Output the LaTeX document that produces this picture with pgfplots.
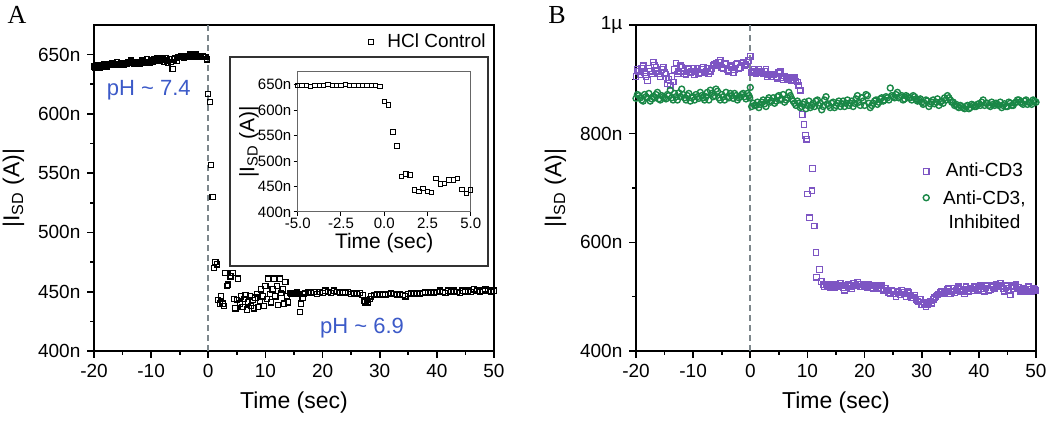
\documentclass[border=0pt]{standalone}
\usepackage{fontspec}
\setmainfont{Liberation Sans}
\newfontfamily\seriffont{Liberation Serif}
\usepackage{pgfplots}
\usepackage{pgfplotstable}
\pgfplotsset{compat=1.18}
\definecolor{phblue}{RGB}{60,90,200}
\definecolor{cdpurple}{RGB}{125,85,195}
\definecolor{cdgreen}{RGB}{25,135,70}
\definecolor{dashgray}{RGB}{125,135,140}

\pgfplotstableread{
t y
-20 640
-19.75 639
-19.5 641
-19.25 640
-19 639
-18.75 641
-18.5 640
-18.25 642
-18 641
-17.75 640
-17.5 642
-17.25 641
-17 642
-16.75 643
-16.5 641
-16.25 642
-16 644
-15.75 642
-15.5 641
-15.25 643
-15 642
-14.75 641
-14.5 643
-14.25 642
-14 644
-13.75 643
-13.5 645
-13.25 644
-13 642
-12.75 643
-12.5 644
-12.25 643
-12 642
-11.75 644
-11.5 645
-11.25 643
-11 644
-10.75 646
-10.5 644
-10.25 643
-10 645
-9.75 644
-9.5 646
-9.25 645
-9 647
-8.75 646
-8.5 645
-8.25 647
-8 646
-7.75 644
-7.5 647
-7.25 645
-7 643
-6.75 646
-6.5 644
-6.25 638
-6 646
-5.75 647
-5.5 645
-5.25 648
-5 648
-4.75 649
-4.5 648
-4.25 647
-4 649
-3.75 648
-3.5 649
-3.25 650
-3 648
-2.75 649
-2.5 648
-2.25 650
-2 649
-1.75 648
-1.5 649
-1.25 648
-1 649
-0.75 648
-0.5 648
-0.25 646
0 617
0.25 610
0.5 557
0.75 530
1.0 470
1.25 475
1.5 473
1.75 443
2.0 440
2.25 446
2.5 440
2.75 438
3.0 466
3.25 455
3.5 456
3.75 463
4.0 463
4.25 466
4.5 444
4.75 436
5.0 443
5.25 461
5.5 440
5.75 446
6 437
6.25 444
6.5 447
6.75 435
7 441
7.25 446
7.5 438
7.75 443
8 436
8.25 445
8.5 448
8.75 437
9 442
9.25 452
9.5 446
9.75 438
10 455
10.25 444
10.5 461
10.75 448
11 441
11.25 452
11.5 461
11.75 446
12 455
12.25 439
12.5 461
12.75 449
13 452
13.25 440
13.5 458
13.75 446
14 441
14.25 449
14.5 448
14.75 449
15 448
15.25 449
15.5 450
15.75 448
16 433
16.25 440
16.5 445
16.75 448
17 449
17.5 450
18 449
18.5 450
19 448
19.5 450
20 449
20.5 451
21 450
21.5 449
22 451
22.5 450
23 449
23.5 450
24 449
24.5 450
25 448
25.5 449
26 448
26.5 449
27 447
27.25 442
27.5 441
27.75 443
28 441
28.25 444
28.5 446
29 447
29.5 448
30 447
30.5 448
31 447
31.5 448
32 449
32.5 448
33 447
33.5 448
34 447
34.5 446
35 448
35.5 449
36 448
36.5 449
37 448
37.5 449
38 450
38.5 449
39 450
39.5 449
40 450
40.5 451
41 450
41.5 449
42 451
42.5 450
43 451
43.5 450
44 449
44.5 451
45 450
45.5 451
46 450
46.5 452
47 451
47.5 450
48 451
48.5 452
49 451
49.5 450
50 451
}\hcl

\pgfplotstableread{
t y
-20 905
-19.5 915
-19 920
-18.5 912
-18 898
-17.5 915
-17 932
-16.5 922
-16 910
-15.5 918
-15 912
-14.5 892
-14 888
-13.5 895
-13 930
-12.5 915
-12 922
-11.5 910
-11 918
-10.5 912
-10 920
-9.5 915
-9 910
-8.5 918
-8 912
-7.5 920
-7 915
-6.5 925
-6 930
-5.5 932
-5 922
-4.5 928
-4 918
-3.5 925
-3 912
-2.5 928
-2 920
-1.5 930
-1 925
-0.5 932
0 942
0.25 912
0.5 915
1 910
1.5 918
2 913
2.5 915
3 905
3.5 910
4 908
4.5 905
5 912
5.5 903
6 906
6.5 900
7 903
7.5 900
8 897
8.5 888
8.75 880
9.1 835
9.4 817
9.65 797
9.9 790
10.0 689
10.35 645
10.8 695
10.9 736
11.2 630
11.5 581
11.6 536
12.1 550
12.4 528
12.8 522
13 518
13.5 521
14 516
14.5 520
15 522
15.5 518
16 520
16.5 512
17 521
17.5 519
18 524
18.5 520
19 523
19.5 518
20 521
20.5 516
21 520
21.5 514
22 519
22.5 517
23 520
23.5 515
24 512
24.5 505
25 510
25.5 500
26 508
26.5 512
27 505
27.5 510
28 502
28.5 498
29 495
29.5 490
30 485
30.5 488
31 485
31.5 492
32 495
32.5 500
33 505
33.5 510
34 508
34.5 513
35 505
35.5 515
36 512
36.5 518
37 510
37.5 505
38 514
38.5 516
39 511
39.5 517
40 515
40.5 518
41 510
41.5 520
42 513
42.5 517
43 522
43.5 520
44 518
44.5 510
45 520
45.5 503
46 515
46.5 522
47 517
47.5 512
48 514
48.5 510
49 513
49.5 516
50 512
-19.75 918
-19.25 908
-18.75 925
-18.25 905
-17.75 920
-17.25 910
-16.75 926
-16.25 915
-15.75 905
-15.25 922
-14.75 910
-14.25 900
-13.75 905
-13.25 918
-12.75 910
-12.25 925
-11.75 915
-11.25 908
-10.75 920
-10.25 914
-9.75 908
-9.25 920
-8.75 912
-8.25 922
-7.75 915
-7.25 910
-6.75 920
-6.25 928
-5.75 925
-5.25 935
-4.75 920
-4.25 930
-3.75 915
-3.25 922
-2.75 918
-2.25 930
-1.75 922
-1.25 932
-0.75 928
-0.25 935
0.75 918
1.25 912
1.75 915
2.25 910
2.75 918
3.25 908
3.75 905
4.25 910
4.75 902
5.25 915
5.75 900
6.25 904
6.75 902
7.25 898
7.75 903
8.25 895
13.25 522
13.75 518
14.25 523
14.75 517
15.25 519
15.75 524
16.25 516
16.75 520
17.25 523
17.75 515
18.25 521
18.75 526
19.25 519
19.75 522
20.25 518
20.75 522
21.25 517
21.75 521
22.25 515
22.75 520
23.25 512
23.75 516
24.25 508
24.75 512
25.25 505
25.75 510
26.25 503
26.75 508
27.25 500
27.75 507
28.25 498
28.75 503
29.25 492
29.75 495
30.25 490
30.75 482
31.25 490
31.75 488
32.25 498
32.75 503
33.25 508
33.75 505
34.25 510
34.75 515
35.25 510
35.75 508
36.25 516
36.75 514
37.25 512
37.75 518
38.25 510
38.75 514
39.25 518
39.75 512
40.25 520
40.75 514
41.25 516
41.75 512
42.25 520
42.75 514
43.25 519
43.75 524
44.25 515
44.75 516
45.25 512
45.75 518
46.25 520
46.75 514
47.25 510
47.75 516
48.25 512
48.75 518
49.25 510
49.75 514
}\cdthree

\pgfplotstableread{
t y
-20 865
-19.5 870
-19 862
-18.5 872
-18 866
-17.5 860
-17 868
-16.5 872
-16 864
-15.5 870
-15 866
-14.5 872
-14 880
-13.5 862
-13 868
-12.5 875
-12 882
-11.5 866
-11 870
-10.5 860
-10 868
-9.5 872
-9 865
-8.5 870
-8 862
-7.5 876
-7 880
-6.5 868
-6 882
-5.5 866
-5 872
-4.5 862
-4 868
-3.5 874
-3 865
-2.5 870
-2 866
-1.5 872
-1 868
-0.5 874
-0.1 866
0 885
0.25 850
0.5 856
1 852
1.5 848
2 858
2.5 855
3 862
3.5 858
4 866
4.5 860
5 870
5.5 864
6 858
6.5 866
7 870
7.5 860
8 852
8.5 856
9 850
9.5 858
10 852
10.5 848
11 856
11.5 860
12 852
12.5 844
13 862
13.5 855
14 848
14.5 858
15 852
15.5 860
16 855
16.5 850
17 862
17.5 856
18 850
18.5 864
19 858
19.5 866
20 852
20.5 870
21 848
21.5 856
22 862
22.5 858
23 866
23.5 862
24 866
24.5 884
25 868
25.5 872
26 866
26.5 870
27 864
27.5 868
28 866
28.5 870
29 864
29.5 862
30 858
30.5 856
31 860
31.5 855
32 862
32.5 858
33 852
33.5 860
34 866
34.5 870
35 862
35.5 858
36 854
36.5 848
37 850
37.5 846
38 852
38.5 848
39 852
39.5 850
40 855
40.5 858
41 852
41.5 856
42 850
42.5 854
43 856
43.5 852
44 848
44.5 855
45 850
45.5 856
46 852
46.5 858
47 862
47.5 856
48 860
48.5 854
49 857
49.5 862
50 858
-19.75 872
-19.25 866
-18.75 860
-18.25 868
-17.75 874
-17.25 864
-16.75 866
-16.25 876
-15.75 862
-15.25 868
-14.75 864
-14.25 870
-13.75 866
-13.25 874
-12.75 862
-12.25 868
-11.75 872
-11.25 862
-10.75 874
-10.25 866
-9.75 862
-9.25 868
-8.75 876
-8.25 866
-7.75 868
-7.25 862
-6.75 874
-6.25 870
-5.75 878
-5.25 862
-4.75 868
-4.25 876
-3.75 866
-3.25 870
-2.75 874
-2.25 862
-1.75 868
-1.25 874
-0.75 864
-0.25 870
0.75 852
1.25 858
1.75 854
2.25 862
2.75 850
3.25 866
3.75 860
4.25 856
4.75 868
5.25 862
5.75 872
6.25 862
6.75 876
7.25 864
7.75 856
8.25 860
8.75 848
9.25 854
9.75 846
10.25 860
10.75 852
11.25 850
11.75 862
12.25 856
12.75 850
13.25 868
13.75 852
14.25 856
14.75 848
15.25 856
15.75 850
16.25 860
16.75 856
17.25 852
17.75 860
18.25 856
18.75 870
19.25 852
19.75 860
20.25 872
20.75 856
21.25 852
21.75 860
22.25 854
22.75 864
23.25 860
23.75 868
24.25 862
24.75 870
25.25 866
25.75 876
26.25 868
26.75 862
27.25 870
27.75 866
28.25 862
28.75 868
29.25 860
29.75 864
30.25 854
30.75 862
31.25 850
31.75 858
32.25 855
32.75 864
33.25 858
33.75 856
34.25 862
34.75 866
35.25 858
35.75 852
36.25 850
36.75 852
37.25 848
37.75 850
38.25 846
38.75 854
39.25 850
39.75 854
40.25 852
40.75 862
41.25 856
41.75 852
42.25 858
42.75 852
43.25 854
43.75 858
44.25 852
44.75 850
45.25 858
45.75 852
46.25 856
46.75 862
47.25 858
47.75 854
48.25 862
48.75 858
49.25 854
49.75 860
}\inhib

\pgfplotsset{
  myaxis/.style={
    scale only axis,
    axis line style={line width=0.8pt},
    tick align=outside,
    xtick pos=left, ytick pos=left,
    major tick length=3.3pt, minor tick length=1.8pt,
    every tick/.style={black, line width=0.8pt},
    ticklabel style={font=\fontsize{9.5}{11}\selectfont},
    label style={font=\fontsize{11.5}{13}\selectfont},
    legend style={draw=none, fill=none, inner sep=0pt, font=\fontsize{9.5}{12}\selectfont,
      /tikz/every odd column/.append style={column sep=5pt}},
  }
}

\begin{document}
\begin{tikzpicture}
\useasboundingbox (0,0) rectangle (525pt,211pt);

% Panel A main
\begin{axis}[myaxis,
  at={(47pt,35.5pt)}, anchor=south west, width=200pt, height=163pt,
  xmin=-20, xmax=50, ymin=400, ymax=675,
  xtick={-20,-10,0,10,20,30,40,50},
  xticklabels={-20,-10,0,10,20,30,40,50},
  minor x tick num=1,
  ytick={400,450,500,550,600,650},
  yticklabels={400n,450n,500n,550n,600n,650n},
  minor y tick num=1,
  xlabel={Time (sec)},
  ylabel={|I\textsubscript{SD} (A)|},
  legend style={at={(0.99,0.948)}, anchor=east},
]
\addplot[dashgray, dashed, line width=1pt, dash pattern=on 3pt off 2pt, forget plot] coordinates {(0,400) (0,675)};
\addplot[only marks, mark=square, mark size=1.3pt, black, line width=0.6pt] table[x=t,y=y] {\hcl};
\addlegendentry{HCl Control}
\node[phblue, font=\fontsize{11}{13}\selectfont] at (axis cs:-10.4,620) {pH \textasciitilde{} 7.4};
\node[phblue, font=\fontsize{11}{13}\selectfont] at (axis cs:26.9,419) {pH \textasciitilde{} 6.9};
\end{axis}

% Inset frame
\draw[fill=white, draw=black!80, line width=0.8pt] (115pt,78pt) rectangle (244pt,182.5pt);

% Inset
\begin{axis}[
  scale only axis,
  at={(148.85pt,105pt)}, anchor=south west, width=86.5pt, height=70pt,
  axis line style={line width=0.5pt, black!60},
  tick align=outside, xtick pos=left, ytick pos=left,
  major tick length=2pt,
  every tick/.style={black, line width=0.5pt},
  xmin=-5, xmax=5, ymin=400, ymax=675,
  xtick={-5,-2.5,0,2.5,5},
  xticklabels={-5.0,-2.5,0.0,2.5,5.0},
  ytick={400,450,500,550,600,650},
  yticklabels={400n,450n,500n,550n,600n,650n},
  ticklabel style={font=\fontsize{7.5}{8}\selectfont, inner sep=1pt},
  label style={font=\fontsize{10.5}{12}\selectfont},
  xlabel={Time (sec)},
  ylabel={|I\textsubscript{SD} (A)|},
  xlabel style={yshift=2.5pt},
  ylabel style={yshift=-5pt},
]
\addplot[only marks, mark=square, mark size=1.1pt, black, line width=0.5pt] table[x=t,y=y] {\hcl};
\end{axis}

% Panel B
\begin{axis}[myaxis,
  at={(318pt,35.5pt)}, anchor=south west, width=200pt, height=163pt,
  xmin=-20, xmax=50, ymin=400, ymax=1000,
  xtick={-20,-10,0,10,20,30,40,50},
  xticklabels={-20,-10,0,10,20,30,40,50},
  minor x tick num=1,
  ytick={400,600,800,1000},
  yticklabels={400n,600n,800n,1µ},
  minor y tick num=1,
  xlabel={Time (sec)},
  ylabel={|I\textsubscript{SD} (A)|},
  legend style={at={(0.985,0.59)}, anchor=north east},
]
\addplot[dashgray, dashed, line width=1pt, dash pattern=on 3pt off 2pt, forget plot] coordinates {(0,400) (0,1000)};
\addplot[only marks, mark=square, mark size=1.4pt, cdpurple, line width=0.6pt] table[x=t,y=y] {\cdthree};
\addlegendentry{Anti-CD3}
\addplot[only marks, mark=o, mark size=1.5pt, cdgreen, line width=0.7pt] table[x=t,y=y] {\inhib};
\addlegendentry{\begin{tabular}[t]{@{}c@{}}Anti-CD3,\\Inhibited\end{tabular}}
\end{axis}

\node[font=\seriffont\fontsize{13}{13}\selectfont] at (8.5pt,203.75pt) {A};
\node[font=\seriffont\fontsize{13}{13}\selectfont] at (278.5pt,203.5pt) {B};
\end{tikzpicture}
\end{document}
